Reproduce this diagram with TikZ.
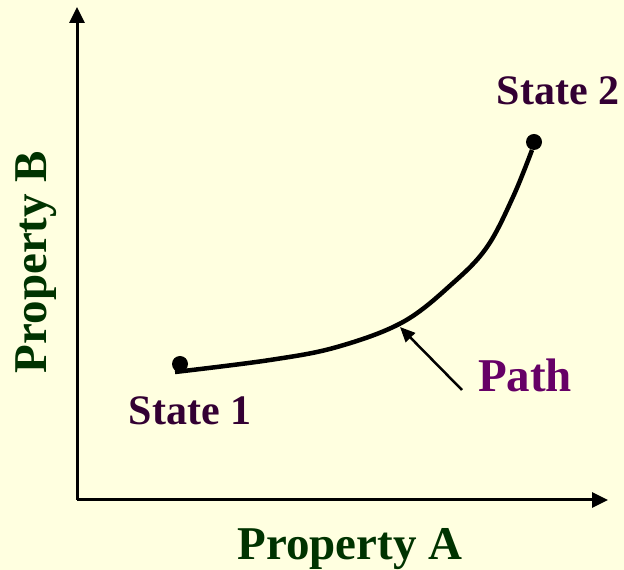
\documentclass[tikz,border=0pt]{standalone}
\usepackage{fontspec}
\setmainfont{Liberation Serif}
\usepackage{tikz}
\usetikzlibrary{calc,positioning,arrows.meta}

\definecolor{bgcream}{HTML}{FFFFE0}
\definecolor{propgreen}{HTML}{003300}
\definecolor{statepurple}{HTML}{330033}
\definecolor{pathpurple}{HTML}{660066}

\begin{document}
\begin{tikzpicture}
[x=1pt,y=1pt]

    \tikzstyle{every node}=[inner sep=0pt,font=\bfseries]
    \tikzstyle{axis}=[line width=3pt,-{Triangle[length=16pt,width=15pt]}]
    \tikzstyle{dot}=[circle,fill=black,minimum size=16pt]

    % background and fixed size
    \fill[bgcream] (0,0) rectangle (624,570);
    \useasboundingbox (0,0) rectangle (624,570);

    % the two axes
    \coordinate (origin) at (77,70);
    \coordinate (ytop) at (77,563);
    \coordinate (xend) at (608,70);
    \draw[axis] (origin) -- (ytop);
    \draw[axis] (origin) -- (xend);

    \node (propA) at (350,21) [text=propgreen,font=\fontsize{47}{50}\selectfont\bfseries] {Property A};
    \node (propB) at (36,308) [rotate=90,text=propgreen,font=\fontsize{47}{50}\selectfont\bfseries] {Property B};

    % the two states
    \node (s1) at (180,206) [dot] {};
    \node (s2) at (534,428) [dot] {};
    \node (s1label) at (190,159) [text=statepurple,font=\fontsize{42}{45}\selectfont\bfseries] {State 1};
    \node (s2label) at (558,479) [text=statepurple,font=\fontsize{42}{45}\selectfont\bfseries] {State 2};

    % the path between them
    \draw[line width=4.5pt] plot[smooth,tension=0.6] coordinates
        {(175,198) (270,210) (337,223) (403,248) (453,287) (487,323) (513,373) (532,420)};

    \coordinate (onpath) at (400,243);
    \node (path) at (525,195) [text=pathpurple,font=\fontsize{47}{50}\selectfont\bfseries] {Path};
    \coordinate (pathtail) at (462,180);
    \draw[line width=2.5pt,-{Triangle[length=15pt,width=13pt]}] (pathtail) -- (onpath);

 \end{tikzpicture}
\end{document}
